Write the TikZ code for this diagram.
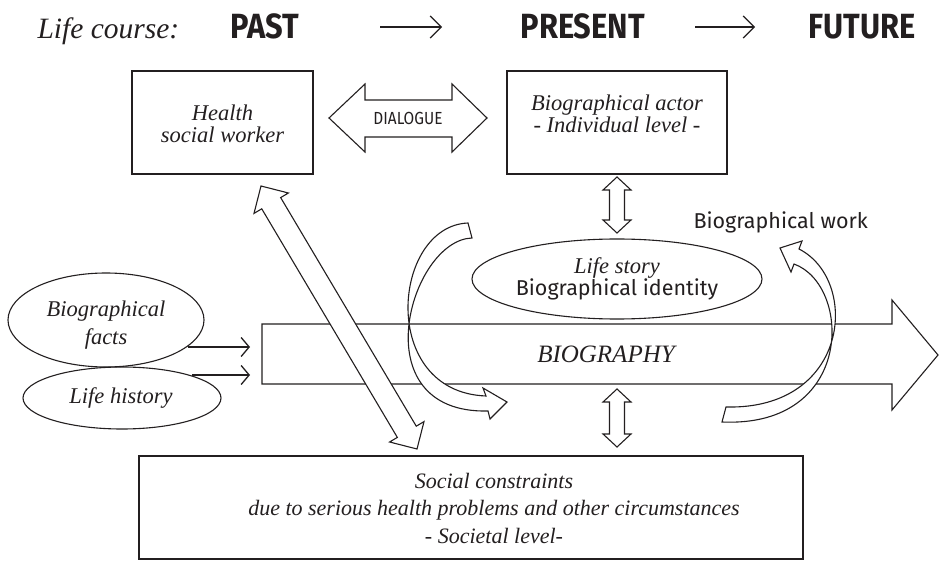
\documentclass[tikz,border=0pt]{standalone}
\usepackage{fontspec}
\setmainfont{Liberation Serif}
\newfontfamily\sansf{Fira Sans}
\newfontfamily\titlef{Fira Sans}[FakeStretch=0.88]
\usetikzlibrary{shapes.geometric,arrows.meta,calc}
\definecolor{ink}{RGB}{35,31,32}
\newcommand\hollowdbl[5]{%
  \coordinate (hdA) at ($(#1)!#5!(#2)$);
  \coordinate (hdB) at ($(#2)!#5!(#1)$);
  \draw[hollow] (#1) -- ($(hdA)!#4!90:(#2)$) -- ($(hdA)!#3!90:(#2)$)
    -- ($(hdB)!#3!-90:(#1)$) -- ($(hdB)!#4!-90:(#1)$) -- (#2)
    -- ($(hdB)!#4!90:(#1)$) -- ($(hdB)!#3!90:(#1)$)
    -- ($(hdA)!#3!-90:(#2)$) -- ($(hdA)!#4!-90:(#2)$) -- cycle;}
\begin{document}
\begin{tikzpicture}[x=1pt,y=-1pt, color=ink, line width=1.1pt,
  serif/.style={font=\fontsize{22.5}{22}\selectfont\itshape, align=center, inner sep=0pt},
  sanstxt/.style={font=\sansf\fontsize{21.5}{26}\selectfont, inner sep=0pt},
  titletxt/.style={font=\titlef\bfseries\fontsize{35}{35}\selectfont, anchor=base west, inner sep=0pt},
  boxshape/.style={draw, inner sep=0pt},
  oval/.style={draw, ellipse, inner sep=0pt},
  hollow/.style={draw, fill=white, line join=miter},
  thinarrow/.style={line width=1.3pt, -{Straight Barb[length=8pt,width=19pt]}},
  titlearrow/.style={line width=1.2pt, -{Straight Barb[length=11pt,width=22pt]}}]
\fill[white] (0,0) rectangle (940,561);
\useasboundingbox (0,0) rectangle (940,561);

% title row
\node[anchor=base west, inner sep=0pt, font=\fontsize{29.5}{29}\selectfont\itshape] (lc) at (37,39) {Life course:};
\node[titletxt] (past) at (230,39) {PAST};
\node[titletxt] (present) at (520,39) {PRESENT};
\node[titletxt] (future) at (808,39) {FUTURE};
\coordinate (t1a) at (380,27); \coordinate (t1b) at (442,27);
\coordinate (t2a) at (695,27); \coordinate (t2b) at (755,27);
\draw[titlearrow] (t1a) -- (t1b);
\draw[titlearrow] (t2a) -- (t2b);

% top boxes
\node[boxshape, minimum width=181pt, minimum height=103pt] (hsw) at (222.5,122.5) {};
\node[serif] (hswt) at (222.5,123.5) {Health\\social worker};
\node[boxshape, minimum width=220pt, minimum height=103pt] (actor) at (617,122.5) {};
\node[serif] (actort) at (617,114) {Biographical actor\\- Individual level -};

% dialogue arrow
\draw[hollow] (329,118) -- (365,84) -- (365,100) -- (452,100) -- (452,84) -- (487,118)
  -- (452,152) -- (452,137) -- (365,137) -- (365,152) -- cycle;
\node[font=\titlef\fontsize{17.5}{17.5}\selectfont, inner sep=0pt] (dlg) at (408,118) {DIALOGUE};

% biography band
\draw[hollow] (262,324) -- (892,324) -- (892,300) -- (938,355) -- (892,410) -- (892,384) -- (262,384) -- cycle;
\node[font=\fontsize{25}{25}\selectfont\itshape, inner sep=0pt] (bio) at (606,354) {BIOGRAPHY};

% ellipses
\node[oval, minimum width=196pt, minimum height=94pt] (facts) at (106,320) {};
\node[serif, font=\fontsize{22.5}{28}\selectfont\itshape] (factst) at (106,325) {Biographical\\facts};
\node[oval, minimum width=198pt, minimum height=62pt] (lhist) at (122,398) {};
\node[serif] (lhistt) at (121,398) {Life history};
\node[oval, minimum width=290pt, minimum height=80pt, align=center] (story) at (617,279)
  {{\fontsize{22.5}{30}\selectfont\itshape Life story}\\{\sansf\fontsize{21.5}{30}\selectfont Biographical identity}};

\node[sanstxt, anchor=base west] (bwork) at (693,229) {Biographical work};

% small input arrows
\coordinate (f1) at (188,347); \coordinate (b1) at (250,347);
\coordinate (f2) at (192,375); \coordinate (b2) at (250,375);
\draw[thinarrow] (f1) -- (b1);
\draw[thinarrow] (f2) -- (b2);

% vertical double arrows
\coordinate (va1) at (617,177); \coordinate (va2) at (617,233);
\coordinate (vb1) at (617,389); \coordinate (vb2) at (617,447);
\hollowdbl{va1}{va2}{7.5pt}{14pt}{13pt}
\hollowdbl{vb1}{vb2}{7.5pt}{14pt}{13pt}

% diagonal double arrow
\coordinate (dg1) at (261,186); \coordinate (dg2) at (417,449);
\hollowdbl{dg1}{dg2}{11pt}{20pt}{20pt}

% curved arrows
\draw[hollow] (468,223) -- (472,238) .. controls (410,240) and (360,414) .. (488,411)
  -- (490,419) -- (507,402) -- (483,388) -- (486,396)
  .. controls (378,392) and (392,226) .. (468,223) -- cycle;
\draw[hollow] (726,407) -- (722,422) .. controls (855,428) and (852,285) .. (794,264)
  -- (791,272) -- (780,248) -- (802,241) -- (799,249)
  .. controls (860,280) and (850,410) .. (726,407) -- cycle;

% bottom box
\node[boxshape, minimum width=664pt, minimum height=103pt] (soc) at (471,507.5) {};
\node[serif, font=\fontsize{22}{27.5}\selectfont\itshape] (soct) at (494,508)
  {Social constraints\\due to serious health problems and other circumstances\\- Societal level-};
\end{tikzpicture}
\end{document}
